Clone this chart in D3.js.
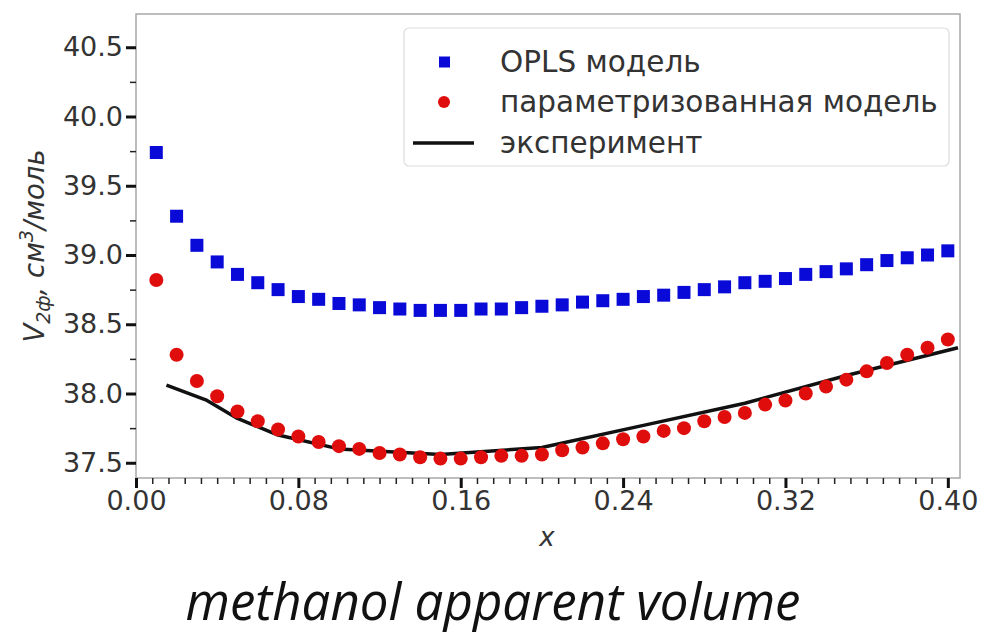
<!DOCTYPE html>
<html><head><meta charset="utf-8">
<script src="https://cdn.jsdelivr.net/npm/d3@7"></script>
<style>html,body{margin:0;padding:0;background:#fff;}svg{display:block;}</style>
</head><body>
<svg id="chart" width="983" height="638"></svg>
<script>
const xVals = [0.01,0.02,0.03,0.04,0.05,0.06,0.07,0.08,0.09,0.10,
  0.11,0.12,0.13,0.14,0.15,0.16,0.17,0.18,0.19,0.20,
  0.21,0.22,0.23,0.24,0.25,0.26,0.27,0.28,0.29,0.30,
  0.31,0.32,0.33,0.34,0.35,0.36,0.37,0.38,0.39,0.40];
const oplsVals = [39.74,39.28,39.07,38.95,38.86,38.80,38.75,38.70,38.68,38.65,
  38.64,38.62,38.61,38.60,38.60,38.60,38.61,38.61,38.62,38.63,
  38.64,38.66,38.67,38.68,38.70,38.71,38.73,38.75,38.77,38.80,
  38.81,38.83,38.86,38.88,38.90,38.93,38.96,38.98,39.00,39.03];
const paramVals = [38.82,38.28,38.09,37.98,37.87,37.80,37.74,37.69,37.65,37.62,
  37.60,37.57,37.56,37.54,37.53,37.53,37.54,37.55,37.55,37.56,
  37.59,37.61,37.64,37.67,37.69,37.73,37.75,37.80,37.83,37.86,
  37.92,37.95,38.00,38.05,38.10,38.16,38.22,38.28,38.33,38.39];
const expX = [0.015,0.035,0.05,0.07,0.10,0.15,0.20,0.25,0.30,0.35,0.405];
const expY = [38.06,37.95,37.82,37.70,37.60,37.56,37.61,37.77,37.93,38.13,38.33];
const xTicks = [0.00,0.08,0.16,0.24,0.32,0.40];
const yTicks = [37.5,38.0,38.5,39.0,39.5,40.0,40.5];
const legendLabels = ["OPLS модель","параметризованная модель","эксперимент"];
const titleText = "methanol apparent volume";

const svg = d3.select("#chart");
const L = 136, R = 960, T = 14, B = 478;
const x = d3.scaleLinear().domain([0, 0.406]).range([L, R]);
const y = d3.scaleLinear().domain([37.39, 40.74]).range([B, T]);
const tickFont = "DejaVu Sans, sans-serif";

// frame
svg.append("rect").attr("x", L).attr("y", T).attr("width", R - L).attr("height", B - T)
  .attr("fill", "none").attr("stroke", "#a8a8a8").attr("stroke-width", 1.5);

// minor ticks
const xMinor = d3.range(0, 51).map(i => i * 0.008).filter(v => v <= 0.4001);
const yMinor = d3.range(0, 14).map(i => 37.5 + i * 0.25).filter(v => v <= 40.51);
svg.append("g").attr("transform", `translate(0,${B})`)
  .call(d3.axisBottom(x).tickValues(xMinor).tickSize(6).tickFormat(""))
  .call(g => g.select(".domain").remove())
  .call(g => g.selectAll("line").attr("stroke", "#222").attr("stroke-width", 1.5));
svg.append("g").attr("transform", `translate(${L},0)`)
  .call(d3.axisLeft(y).tickValues(yMinor).tickSize(6).tickFormat(""))
  .call(g => g.select(".domain").remove())
  .call(g => g.selectAll("line").attr("stroke", "#222").attr("stroke-width", 1.5));

// major ticks
svg.append("g").attr("transform", `translate(0,${B})`)
  .call(d3.axisBottom(x).tickValues(xTicks).tickSize(10).tickPadding(3).tickFormat(d3.format(".2f")))
  .call(g => g.select(".domain").remove())
  .call(g => g.selectAll("line").attr("stroke", "#111").attr("stroke-width", 3))
  .call(g => g.selectAll("text").attr("font-family", tickFont).attr("font-size", 27).attr("fill", "#333"));
svg.append("g").attr("transform", `translate(${L},0)`)
  .call(d3.axisLeft(y).tickValues(yTicks).tickSize(10).tickPadding(3).tickFormat(d3.format(".1f")))
  .call(g => g.select(".domain").remove())
  .call(g => g.selectAll("line").attr("stroke", "#111").attr("stroke-width", 3))
  .call(g => g.selectAll("text").attr("font-family", tickFont).attr("font-size", 27).attr("fill", "#333"));

// axis labels
svg.append("text").attr("x", 547).attr("y", 546).attr("text-anchor", "middle")
  .attr("font-family", tickFont).attr("font-style", "italic").attr("font-size", 26).attr("fill", "#333").text("x");
const yl = svg.append("text").attr("transform", `translate(44,${(T + B) / 2}) rotate(-90)`)
  .attr("text-anchor", "middle").attr("font-family", tickFont).attr("font-style", "italic")
  .attr("font-size", 27.5).attr("fill", "#333");
yl.append("tspan").text("V");
yl.append("tspan").attr("font-size", 19).attr("dy", 6).text("2ф");
yl.append("tspan").attr("dy", -6).text(", см");
yl.append("tspan").attr("font-size", 19).attr("dy", -11).text("3");
yl.append("tspan").attr("dy", 11).text("/моль");

// data
const data = xVals.map((v, i) => ({x: v, o: oplsVals[i], p: paramVals[i]}));
const blue = "#0a0ad8", red = "#e00d0d";
svg.append("g").selectAll("rect").data(data).join("rect")
  .attr("x", d => x(d.x) - 6.5).attr("y", d => y(d.o) - 6.5)
  .attr("width", 13).attr("height", 13).attr("fill", blue);
const expData = expX.map((v, i) => ({x: v, y: expY[i]}));
svg.append("path").datum(expData)
  .attr("d", d3.line().x(d => x(d.x)).y(d => y(d.y)))
  .attr("fill", "none").attr("stroke", "#111").attr("stroke-width", 3.5).attr("stroke-linejoin", "round");
svg.append("g").selectAll("circle").data(data).join("circle")
  .attr("cx", d => x(d.x)).attr("cy", d => y(d.p)).attr("r", 7).attr("fill", red);

// legend
const lg = svg.append("g");
lg.append("rect").attr("x", 404).attr("y", 28).attr("width", 545).attr("height", 138).attr("rx", 5)
  .attr("fill", "#fff").attr("fill-opacity", 0.85).attr("stroke", "#ddd").attr("stroke-width", 1.2);
const rowY = [62, 102, 143];
lg.append("rect").attr("x", 439).attr("y", rowY[0] - 5.5).attr("width", 11).attr("height", 11).attr("fill", blue);
lg.append("circle").attr("cx", 444).attr("cy", rowY[1]).attr("r", 6).attr("fill", red);
lg.append("line").attr("x1", 413).attr("x2", 474).attr("y1", rowY[2]).attr("y2", rowY[2])
  .attr("stroke", "#111").attr("stroke-width", 3.5);
legendLabels.forEach((t, i) => {
  lg.append("text").attr("x", 500).attr("y", rowY[i]).attr("dy", "0.35em")
    .attr("font-family", tickFont).attr("font-size", 29.5).attr("fill", "#333").text(t);
});

// title
svg.append("text").attr("x", 493).attr("y", 620).attr("text-anchor", "middle")
  .attr("font-family", "Open Sans, sans-serif").attr("font-style", "italic").attr("font-size", 51)
  .attr("fill", "#111").text(titleText);
</script>
</body></html>
